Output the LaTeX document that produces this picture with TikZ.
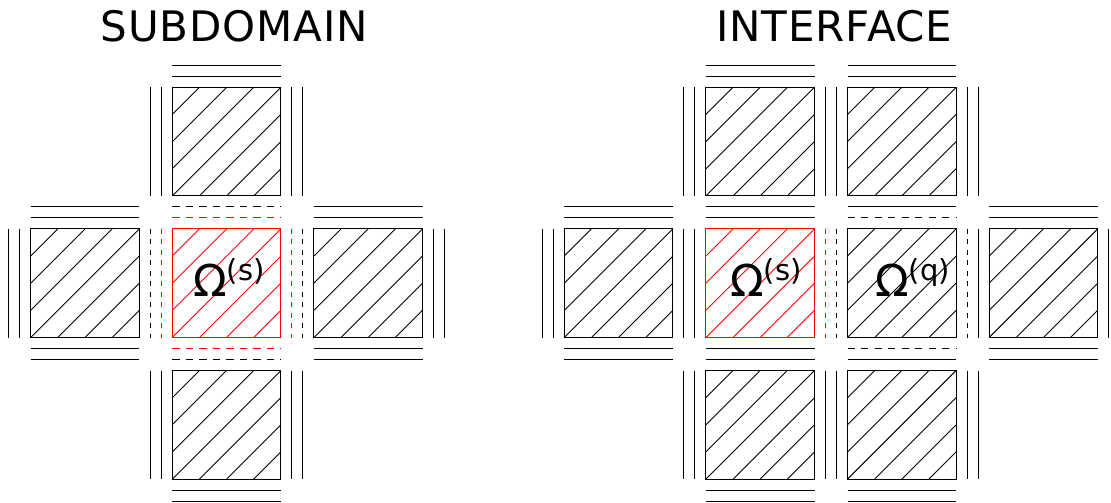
\documentclass[tikz,border=0pt]{standalone}
\usepackage{fontspec}
\setmainfont{DejaVu Sans}
\newcommand\sqs{108.6}
\tikzset{
  ln/.style={line width=0.9pt,black},
  dh/.style={dash pattern=on 7.3pt off 6.2pt},
  dv/.style={dash pattern=on 5pt off 5.5pt},
  ttl/.style={anchor=base,inner sep=0pt,font=\fontsize{42}{42}\selectfont\addfontfeature{LetterSpace=2}},
  lbl/.style={anchor=base west,inner sep=0pt}
}
% hatched square: top-left x, y, colour
\newcommand\hsq[3]{%
  \draw[ln,#3] (#1,#2) rectangle ++(\sqs,\sqs);
  \foreach \k in {0,1,2,3}{\draw[ln,#3] ({#1+\k*\sqs/4},{#2+\sqs}) -- ({#1+\sqs},{#2+\k*\sqs/4});}
  \foreach \k in {1,2,3}{\draw[ln,#3] ({#1},{#2+\sqs-\k*\sqs/4}) -- ({#1+\sqs-\k*\sqs/4},{#2});}
}
\newcommand\hln[3][]{\draw[ln,#1] (#2,#3) -- ++(\sqs,0);}
\newcommand\vln[3][]{\draw[ln,#1] (#2,#3) -- ++(0,\sqs);}
\newcommand\omg[1]{{\fontsize{44}{44}\selectfont Ω}\raisebox{16pt}{\fontsize{29}{29}\selectfont (#1)}}
\begin{document}
\begin{tikzpicture}[x=1pt,y=-1pt]
\useasboundingbox (0,0) rectangle (1111,503);
% ---------------- SUBDOMAIN ----------------
\node[ttl] (t1) at (234.2,41.7) {SUBDOMAIN};
\hsq{172.3}{87.3}{black}
\hsq{30.7}{228.9}{black}
\hsq{172.3}{228.9}{red}
\hsq{313.9}{228.9}{black}
\hsq{172.3}{370.5}{black}
% top square
\hln{172.3}{76.3} \hln{172.3}{65.3}
\vln{161.3}{87.3} \vln{150.3}{87.3}
\vln{291.9}{87.3} \vln{302.9}{87.3}
\hln[dh]{172.3}{206.9} \hln[dh,red]{172.3}{217.9}
% left square
\hln{30.7}{206.9} \hln{30.7}{217.9}
\hln{30.7}{348.5} \hln{30.7}{359.5}
\vln{19.7}{228.9} \vln{8.7}{228.9}
\vln[dv]{150.3}{228.9} \vln[dv,red]{161.3}{228.9}
% right square
\hln{313.9}{206.9} \hln{313.9}{217.9}
\hln{313.9}{348.5} \hln{313.9}{359.5}
\vln{433.5}{228.9} \vln{444.5}{228.9}
\vln[dv,red]{291.9}{228.9} \vln[dv]{302.9}{228.9}
% bottom square
\hln[dh,red]{172.3}{348.5} \hln[dh]{172.3}{359.5}
\vln{150.3}{370.5} \vln{161.3}{370.5}
\vln{291.9}{370.5} \vln{302.9}{370.5}
\hln{172.3}{490.1} \hln{172.3}{501.1}
\node[lbl] (o1) at (193,296) {\omg{s}};
% ---------------- INTERFACE ----------------
\node[ttl] (t2) at (834.5,41.7) {INTERFACE};
\hsq{705.9}{87.3}{black}
\hsq{847.5}{87.3}{black}
\hsq{564.3}{228.9}{black}
\hsq{705.9}{228.9}{red}
\hsq{847.5}{228.9}{black}
\hsq{989.1}{228.9}{black}
\hsq{705.9}{370.5}{black}
\hsq{847.5}{370.5}{black}
% top row
\hln{705.9}{65.3} \hln{705.9}{76.3}
\hln{847.5}{65.3} \hln{847.5}{76.3}
\vln{683.9}{87.3} \vln{694.9}{87.3}
\vln{825.5}{87.3} \vln{836.5}{87.3}
\vln{967.1}{87.3} \vln{978.1}{87.3}
\hln{705.9}{206.9} \hln{705.9}{217.9}
\hln{847.5}{206.9} \hln[dh]{847.5}{217.9}
% middle left
\hln{564.3}{206.9} \hln{564.3}{217.9}
\hln{564.3}{348.5} \hln{564.3}{359.5}
\vln{542.3}{228.9} \vln{553.3}{228.9}
\vln{683.9}{228.9} \vln{694.9}{228.9}
% Omega s / Omega q
\vln[dv,red]{825.5}{228.9} \vln[dv]{836.5}{228.9}
\hln{705.9}{348.5} \hln{705.9}{359.5}
\vln[dv]{967.1}{228.9} \vln{978.1}{228.9}
\hln[dh]{847.5}{348.5} \hln{847.5}{359.5}
% middle right
\hln{989.1}{206.9} \hln{989.1}{217.9}
\hln{989.1}{348.5} \hln{989.1}{359.5}
\vln{1108.7}{228.9}
% bottom row
\vln{683.9}{370.5} \vln{694.9}{370.5}
\vln{825.5}{370.5} \vln{836.5}{370.5}
\vln{967.1}{370.5} \vln{978.1}{370.5}
\hln{705.9}{490.1} \hln{705.9}{501.1}
\hln{847.5}{490.1} \hln{847.5}{501.1}
\node[lbl] (o2) at (730,296) {\omg{s}};
\node[lbl] (o3) at (875,296) {\omg{q}};
\end{tikzpicture}
\end{document}
